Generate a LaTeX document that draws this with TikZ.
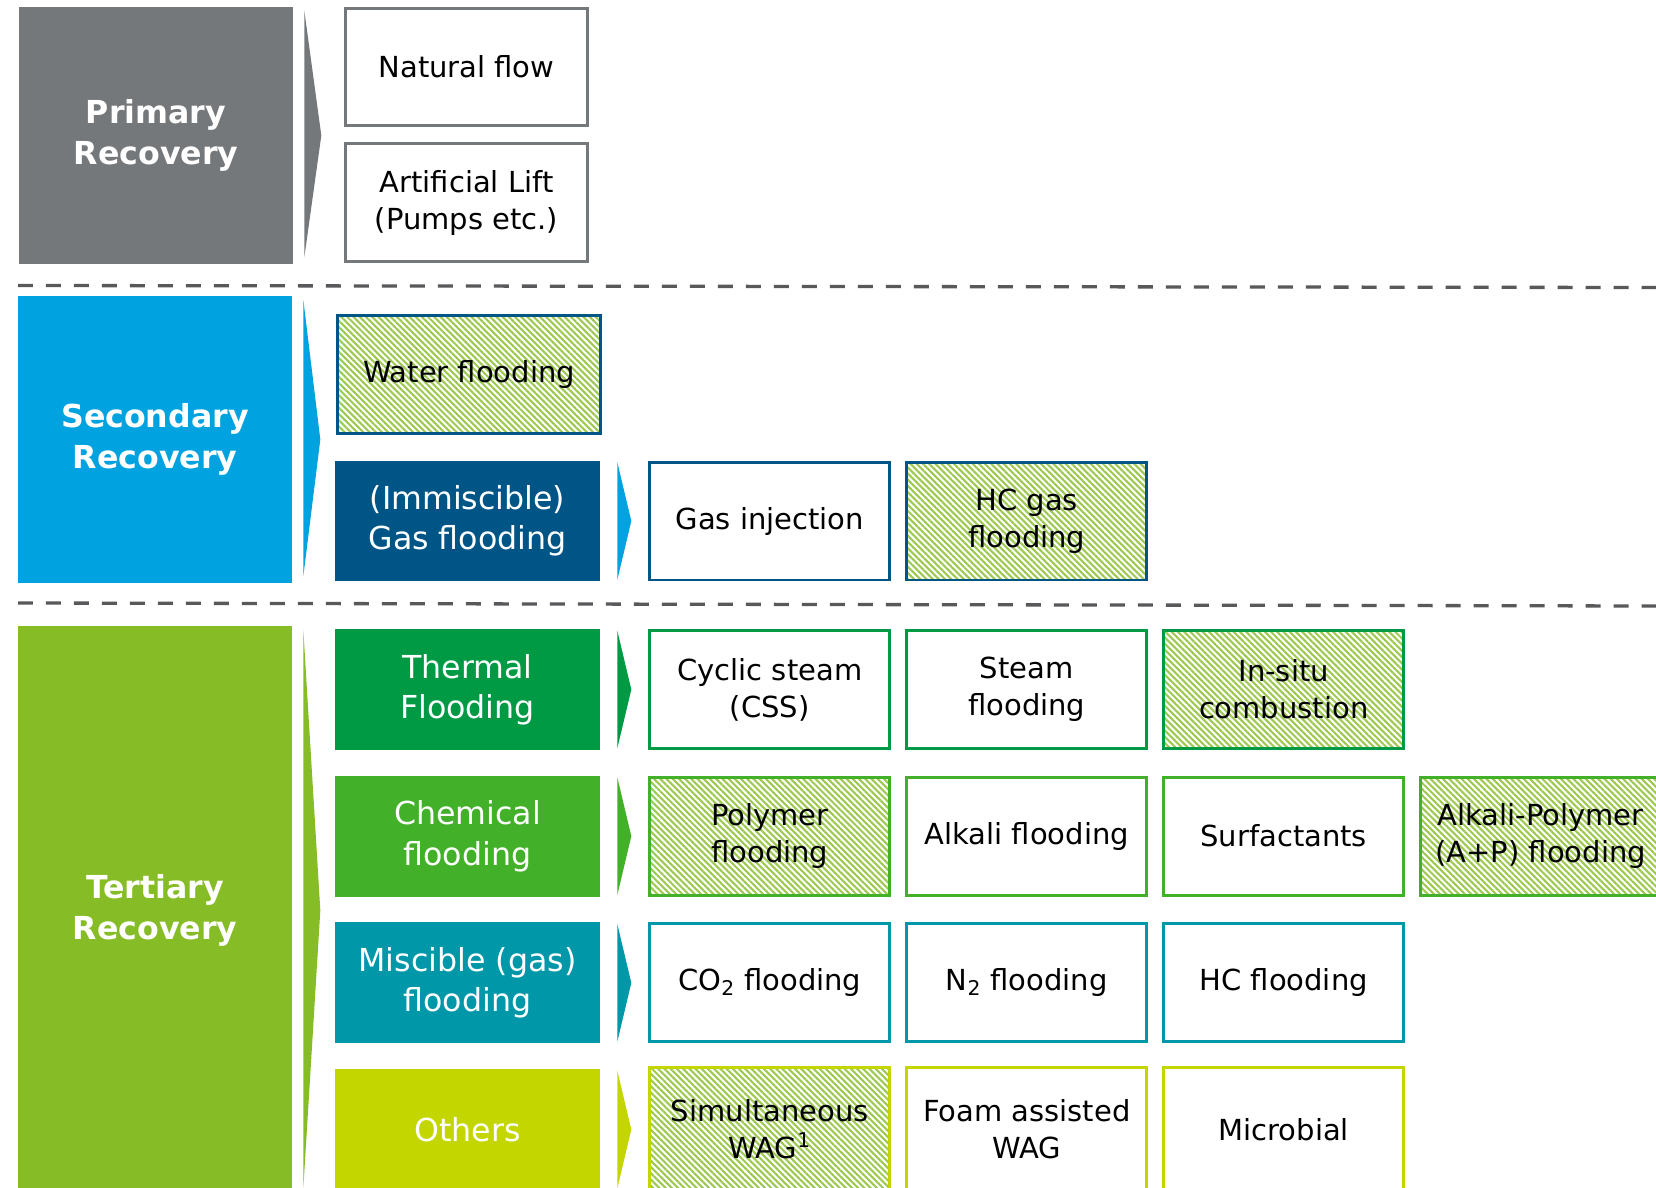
\documentclass[tikz,border=0pt]{standalone}
\usepackage{fontspec}
\setmainfont{DejaVu Sans}
\usetikzlibrary{positioning,patterns.meta}
\definecolor{pgrey}{HTML}{75787B}
\definecolor{sblue}{HTML}{00A3E0}
\definecolor{navy}{HTML}{005587}
\definecolor{tgreen}{HTML}{86BC25}
\definecolor{cthermal}{HTML}{009A44}
\definecolor{cchem}{HTML}{43B02A}
\definecolor{cmisc}{HTML}{0097A9}
\definecolor{cother}{HTML}{C4D600}
\definecolor{hatchgreen}{HTML}{9EC951}
\definecolor{sepgrey}{HTML}{58595B}

\begin{document}
\begin{tikzpicture}[x=0.02cm, y=-0.02cm]
\tikzstyle{title}=[rectangle, text=white, font=\fontsize{18}{23}\selectfont\bfseries, align=center, minimum width=5.48cm, inner sep=0pt]
\tikzstyle{cat}=[rectangle, text=white, font=\fontsize{18}{23}\selectfont, align=center, minimum width=5.3cm, minimum height=2.42cm, inner sep=0pt]
\tikzstyle{box}=[rectangle, draw, line width=0.06cm, fill=white, font=\fontsize{16.5}{21}\selectfont, align=center, minimum width=4.8cm, minimum height=2.36cm, inner sep=0pt, node distance=0.28cm]
\tikzstyle{hatch}=[pattern={Lines[angle=-45, distance=2.5pt, line width=1.2pt]}, pattern color=hatchgreen]
\tikzstyle{sep}=[line width=0.066cm, sepgrey, dash pattern=on 0.3cm off 0.26cm]
  \useasboundingbox (0,0) rectangle (1656,1187);
  \clip (0,0) rectangle (1656,1187);
  \fill[white] (0,0) rectangle (1656,1187);

  % primary
  \node[title, fill=pgrey, minimum height=5.14cm] (primary) at (156,135.5) {Primary\\Recovery};
  \node[box, draw=pgrey, minimum width=4.84cm] (natural) at (466.5,67) {Natural flow};
  \node[box, draw=pgrey, minimum width=4.84cm, below=0.3cm of natural] (lift) {Artificial Lift\\(Pumps etc.)};
  \draw[sep] (18,285.5) -- (1656,287.5);

  % secondary
  \node[title, fill=sblue, minimum height=5.74cm] (secondary) at (155,439.5) {Secondary\\Recovery};
  \node[box, hatch, draw=navy, minimum width=5.26cm] (water) at (469,374.5) {Water flooding};
  \node[cat, fill=navy] (immisc) at (467.5,521) {(Immiscible)\\Gas flooding};
  \node[box, draw=navy, right=0.96cm of immisc] (gasinj) {Gas injection};
  \node[box, hatch, draw=navy, right=of gasinj] (hcgas) {HC gas\\flooding};
  \draw[sep] (18,603) -- (1656,606);

  % tertiary
  \node[title, fill=tgreen, minimum height=11.38cm] (tertiary) at (155,910.5) {Tertiary\\Recovery};
  \node[cat, fill=cthermal] (thermal) at (467.5,689.5) {Thermal\\Flooding};
  \node[cat, fill=cchem, below=0.5cm of thermal] (chemical) {Chemical\\flooding};
  \node[cat, fill=cmisc, below=0.5cm of chemical] (miscible) {Miscible (gas)\\flooding};
  \node[cat, fill=cother, below=0.5cm of miscible] (others) {Others};

  \node[box, draw=cthermal, right=0.96cm of thermal] (cyclic) {Cyclic steam\\(CSS)};
  \node[box, draw=cthermal, right=of cyclic] (steam) {Steam\\flooding};
  \node[box, hatch, draw=cthermal, right=of steam] (insitu) {In-situ\\combustion};

  \node[box, hatch, draw=cchem, right=0.96cm of chemical] (polymer) {Polymer\\flooding};
  \node[box, draw=cchem, right=of polymer] (alkali) {Alkali flooding};
  \node[box, draw=cchem, right=of alkali] (surfact) {Surfactants};
  \node[box, hatch, draw=cchem, right=of surfact] (alkpoly) {Alkali-Polymer\\(A+P) flooding};

  \node[box, draw=cmisc, right=0.96cm of miscible] (cotwo) {CO\textsubscript{2} flooding};
  \node[box, draw=cmisc, right=of cotwo] (ntwo) {N\textsubscript{2} flooding};
  \node[box, draw=cmisc, right=of ntwo] (hcflood) {HC flooding};

  % last row runs off the page
  \node[box, hatch, draw=cother, minimum height=2.5cm, right=0.96cm of others] (simwag) {Simultaneous\\WAG\textsuperscript{1}};
  \node[box, draw=cother, minimum height=2.5cm, right=of simwag] (foam) {Foam assisted\\WAG};
  \node[box, draw=cother, minimum height=2.5cm, right=of foam] (microbial) {Microbial};

  % chevrons
  \foreach \n/\col in {primary/pgrey, secondary/sblue, tertiary/tgreen}
    \fill[\col] ([xshift=0.22cm, yshift=-0.08cm]\n.north east) -- ([xshift=0.56cm]\n.east) -- ([xshift=0.22cm, yshift=0.14cm]\n.south east) -- cycle;
  \foreach \n/\col in {immisc/sblue, thermal/cthermal, chemical/cchem, miscible/cmisc, others/cother}
    \fill[\col] ([xshift=0.34cm, yshift=-0.04cm]\n.north east) -- ([xshift=0.62cm]\n.east) -- ([xshift=0.34cm, yshift=0.04cm]\n.south east) -- cycle;
\end{tikzpicture}
\end{document}
